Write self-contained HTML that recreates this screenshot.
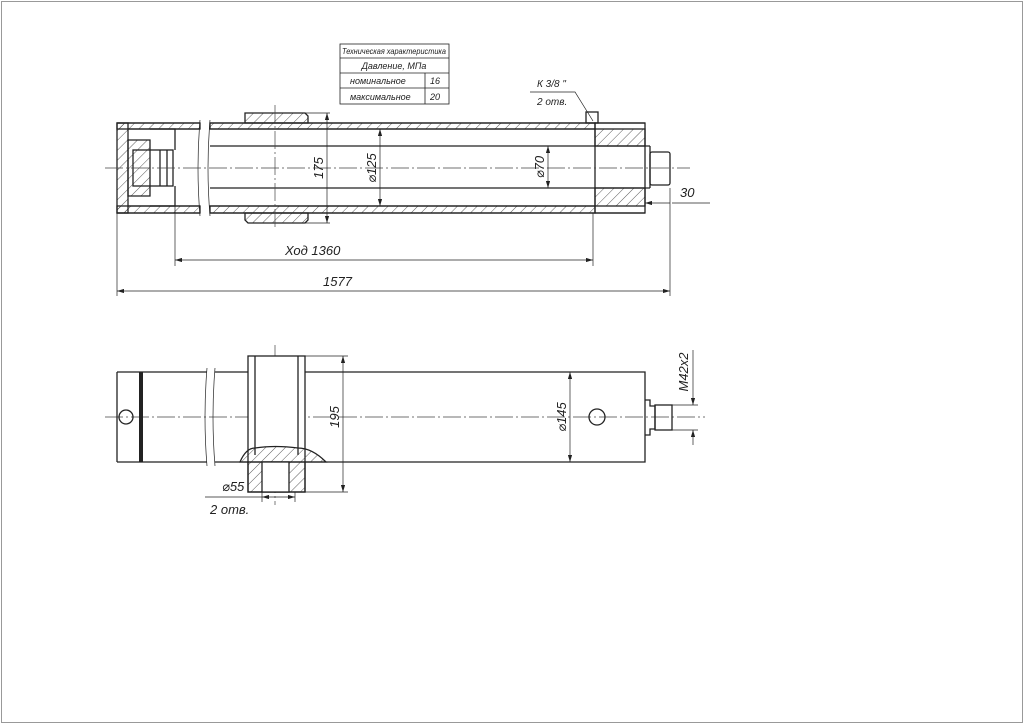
<!DOCTYPE html>
<html><head><meta charset="utf-8"><style>
html,body{margin:0;padding:0;background:#fff}
svg{display:block}
text{font-family:"Liberation Sans","DejaVu Sans",sans-serif;font-style:italic;fill:#222}
</style></head><body>
<svg width="1024" height="724" viewBox="0 0 1024 724" xmlns="http://www.w3.org/2000/svg">
<defs>
<pattern id="h" width="7" height="7" patternUnits="userSpaceOnUse" patternTransform="rotate(45)">
<line x1="0" y1="0" x2="0" y2="7" stroke="#333" stroke-width="0.8"/></pattern>
<marker id="a" viewBox="0 0 10 6" refX="10" refY="3" markerWidth="10" markerHeight="6" orient="auto-start-reverse"><path d="M0,0L10,3L0,6z" fill="#222"/></marker>
</defs>
<rect x="1.5" y="1.5" width="1021" height="721" fill="none" stroke="#999" stroke-width="1"/>
<g stroke="#222" fill="none" stroke-width="1.3">
<g stroke-width="0.8">
<rect x="340" y="44" width="109" height="60"/>
<line x1="340" y1="58" x2="449" y2="58"/><line x1="340" y1="73" x2="449" y2="73"/><line x1="340" y1="88" x2="449" y2="88"/>
<line x1="425" y1="73" x2="425" y2="104"/>
</g>
<rect x="117" y="123" width="83" height="6" fill="url(#h)"/>
<rect x="117" y="206" width="83" height="7" fill="url(#h)"/>
<rect x="210" y="123" width="385" height="6" fill="url(#h)"/>
<rect x="210" y="206" width="385" height="7" fill="url(#h)"/>
<path d="M117,123H200M117,213H200M210,123H645M210,213H645M128,129H200M210,129H595M128,206H200M210,206H595"/>
<rect x="117" y="123" width="11" height="90" fill="url(#h)"/>
<path d="M128,140H150V196H128Z" fill="url(#h)"/>
<rect x="133" y="150" width="40" height="36"/>
<path d="M160,150V186M167,150V186"/>
<path d="M150,129H175V150M150,206H175V186"/>
<path d="M200,120Q196,168 200,216M210,120Q206,168 210,216" stroke-width="0.7"/>
<path d="M210,146H650M210,188H650M650,146V188"/>
<rect x="650" y="152" width="20" height="33" rx="2"/>
<rect x="595" y="129" width="50" height="17" fill="url(#h)"/>
<rect x="595" y="188" width="50" height="18" fill="url(#h)"/>
<rect x="595" y="123" width="50" height="90"/>
<rect x="586" y="112" width="12" height="11"/>
<path d="M245,113H305L308,116V123H245V116Z" fill="url(#h)"/>
<path d="M245,213H308V220L305,223H248L245,220Z" fill="url(#h)"/>
</g>
<g stroke="#444" stroke-width="0.7" stroke-dasharray="18,3,2,3" fill="none">
<path d="M105,168H690M275,105V230M105,417H705M275,345V505"/>
</g>
<g stroke="#222" stroke-width="0.7" fill="none">
<line x1="327" y1="113" x2="327" y2="223" marker-start="url(#a)" marker-end="url(#a)"/>
<line x1="305" y1="113" x2="330" y2="113"/><line x1="305" y1="223" x2="330" y2="223"/>
<line x1="380" y1="129" x2="380" y2="206" marker-start="url(#a)" marker-end="url(#a)"/>
<line x1="548" y1="146" x2="548" y2="188" marker-start="url(#a)" marker-end="url(#a)"/>
<line x1="117" y1="213" x2="117" y2="296"/>
<line x1="175" y1="206" x2="175" y2="266"/>
<line x1="593" y1="213" x2="593" y2="266"/>
<line x1="670" y1="188" x2="670" y2="296"/>
<line x1="175" y1="260" x2="593" y2="260" marker-start="url(#a)" marker-end="url(#a)"/>
<line x1="117" y1="291" x2="670" y2="291" marker-start="url(#a)" marker-end="url(#a)"/>
<line x1="645" y1="213" x2="645" y2="196"/>
<line x1="670" y1="203" x2="645" y2="203" marker-end="url(#a)"/>
<line x1="710" y1="203" x2="672" y2="203"/>
<path d="M530,92H575L593,121"/>
</g>
<g stroke="#222" fill="none" stroke-width="1.3">
<path d="M117,372H207M117,462H207M215,372H645V462H215M117,372V462"/>
<path d="M207,368Q203,417 207,466M215,368Q211,417 215,466" stroke-width="0.7"/>
<line x1="141" y1="372" x2="141" y2="462" stroke-width="4"/>
<rect x="248" y="356" width="57" height="136" fill="#fff"/>
<path d="M255,356V455M298,356V455"/>
<path d="M240,462Q246,448 255,448Q275,445 298,448Q312,448 326,462Z" fill="url(#h)"/>
<rect x="248" y="462" width="57" height="30" fill="url(#h)"/>
<rect x="262" y="462" width="27" height="30" fill="#fff"/>
<circle cx="597" cy="417" r="8"/>
<circle cx="126" cy="417" r="7"/>
<path d="M645,400H650V406H655V429H650V435H645"/>
<rect x="655" y="405" width="17" height="25"/>
</g>
<g stroke="#222" stroke-width="0.7" fill="none">
<line x1="343" y1="356" x2="343" y2="492" marker-start="url(#a)" marker-end="url(#a)"/>
<line x1="305" y1="356" x2="348" y2="356"/><line x1="305" y1="492" x2="348" y2="492"/>
<line x1="570" y1="372" x2="570" y2="462" marker-start="url(#a)" marker-end="url(#a)"/>
<line x1="672" y1="405" x2="698" y2="405"/><line x1="672" y1="430" x2="698" y2="430"/>
<line x1="693" y1="350" x2="693" y2="405" marker-end="url(#a)"/>
<line x1="693" y1="445" x2="693" y2="430" marker-end="url(#a)"/>
<line x1="262" y1="492" x2="262" y2="502"/><line x1="295" y1="492" x2="295" y2="502"/>
<line x1="205" y1="497" x2="262" y2="497"/>
<line x1="262" y1="497" x2="295" y2="497" marker-start="url(#a)" marker-end="url(#a)"/>
</g>
<g font-size="9">
<text x="394" y="54" text-anchor="middle" font-size="8" textLength="104" lengthAdjust="spacingAndGlyphs">Техническая характеристика</text>
<text x="394" y="69" text-anchor="middle">Давление, МПа</text>
<text x="350" y="84">номинальное</text><text x="430" y="84">16</text>
<text x="350" y="100">максимальное</text><text x="430" y="100">20</text>
<text x="537" y="87" font-size="10">К 3/8 "</text>
<text x="537" y="105" font-size="10">2 отв.</text>
</g>
<g font-size="13">
<text x="323" y="168" transform="rotate(-90 323 168)" text-anchor="middle">175</text>
<text x="376" y="168" transform="rotate(-90 376 168)" text-anchor="middle">⌀125</text>
<text x="544" y="167" transform="rotate(-90 544 167)" text-anchor="middle">⌀70</text>
<text x="680" y="197">30</text>
<text x="285" y="255">Ход 1360</text>
<text x="323" y="286">1577</text>
<text x="339" y="417" transform="rotate(-90 339 417)" text-anchor="middle">195</text>
<text x="566" y="417" transform="rotate(-90 566 417)" text-anchor="middle">⌀145</text>
<text x="688" y="372" transform="rotate(-90 688 372)" text-anchor="middle">М42х2</text>
<text x="222" y="491">⌀55</text>
<text x="210" y="514">2 отв.</text>
</g>
</svg>
</body></html>
